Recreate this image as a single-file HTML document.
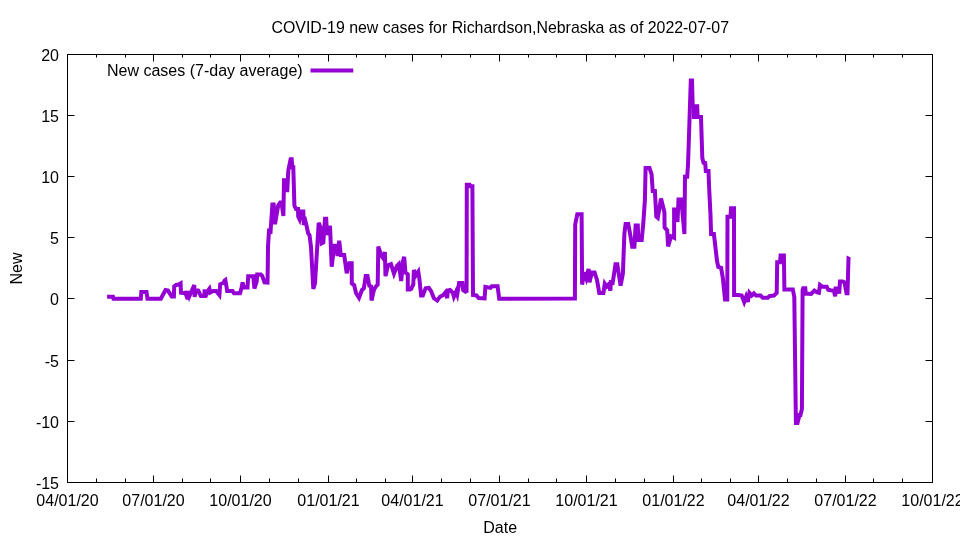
<!DOCTYPE html>
<html><head><meta charset="utf-8"><style>
html,body{margin:0;padding:0;background:#fff;width:960px;height:540px;overflow:hidden}
svg{display:block;will-change:transform}
text{font-family:"Liberation Sans",sans-serif;font-size:16px;fill:#000}
</style></head><body>
<svg width="960" height="540" viewBox="0 0 960 540">
<rect x="0" y="0" width="960" height="540" fill="#fff"/>
<path d="M153.5 482.5V475.5M153.5 54.5V61.5M240.5 482.5V475.5M240.5 54.5V61.5M328.5 482.5V475.5M328.5 54.5V61.5M412.5 482.5V475.5M412.5 54.5V61.5M499.5 482.5V475.5M499.5 54.5V61.5M586.5 482.5V475.5M586.5 54.5V61.5M673.5 482.5V475.5M673.5 54.5V61.5M758.5 482.5V475.5M758.5 54.5V61.5M845.5 482.5V475.5M845.5 54.5V61.5M96.5 482.5V478.5M96.5 54.5V57.5M125.5 482.5V478.5M125.5 54.5V57.5M182.5 482.5V478.5M182.5 54.5V57.5M210.5 482.5V478.5M210.5 54.5V57.5M269.5 482.5V478.5M269.5 54.5V57.5M298.5 482.5V478.5M298.5 54.5V57.5M356.5 482.5V478.5M356.5 54.5V57.5M385.5 482.5V478.5M385.5 54.5V57.5M441.5 482.5V478.5M441.5 54.5V57.5M470.5 482.5V478.5M470.5 54.5V57.5M528.5 482.5V478.5M528.5 54.5V57.5M556.5 482.5V478.5M556.5 54.5V57.5M615.5 482.5V478.5M615.5 54.5V57.5M644.5 482.5V478.5M644.5 54.5V57.5M701.5 482.5V478.5M701.5 54.5V57.5M730.5 482.5V478.5M730.5 54.5V57.5M787.5 482.5V478.5M787.5 54.5V57.5M816.5 482.5V478.5M816.5 54.5V57.5M873.5 482.5V478.5M873.5 54.5V57.5M902.5 482.5V478.5M902.5 54.5V57.5M67.5 421.5H74.5M932.5 421.5H925.5M67.5 360.5H74.5M932.5 360.5H925.5M67.5 298.5H74.5M932.5 298.5H925.5M67.5 237.5H74.5M932.5 237.5H925.5M67.5 176.5H74.5M932.5 176.5H925.5M67.5 115.5H74.5M932.5 115.5H925.5" stroke="#000" stroke-width="1" fill="none"/>
<rect x="67.5" y="54.5" width="865" height="428" fill="none" stroke="#000" stroke-width="1"/>
<text x="59" y="488.8" text-anchor="end">-15</text>
<text x="59" y="427.8" text-anchor="end">-10</text>
<text x="59" y="366.8" text-anchor="end">-5</text>
<text x="59" y="304.8" text-anchor="end">0</text>
<text x="59" y="243.8" text-anchor="end">5</text>
<text x="59" y="182.8" text-anchor="end">10</text>
<text x="59" y="121.8" text-anchor="end">15</text>
<text x="59" y="60.8" text-anchor="end">20</text>
<text x="67.5" y="505.7" text-anchor="middle">04/01/20</text>
<text x="153.5" y="505.7" text-anchor="middle">07/01/20</text>
<text x="240.5" y="505.7" text-anchor="middle">10/01/20</text>
<text x="328.5" y="505.7" text-anchor="middle">01/01/21</text>
<text x="412.5" y="505.7" text-anchor="middle">04/01/21</text>
<text x="499.5" y="505.7" text-anchor="middle">07/01/21</text>
<text x="586.5" y="505.7" text-anchor="middle">10/01/21</text>
<text x="673.5" y="505.7" text-anchor="middle">01/01/22</text>
<text x="758.5" y="505.7" text-anchor="middle">04/01/22</text>
<text x="845.5" y="505.7" text-anchor="middle">07/01/22</text>
<text x="932.5" y="505.7" text-anchor="middle">10/01/22</text>
<text x="500.25" y="33" text-anchor="middle" style="font-size:15.9px">COVID-19 new cases for Richardson,Nebraska as of 2022-07-07</text>
<text x="500.2" y="532.8" text-anchor="middle">Date</text>
<text transform="translate(22,268.5) rotate(-90)" text-anchor="middle">New</text>
<text x="107" y="75.9">New cases (7-day average)</text>
<path d="M310.5 70.4H353.3" stroke="#9400d3" stroke-width="4" fill="none"/>
<path d="M107.1 296.8 L113.0 296.8 L113.5 298.7 L140.8 298.7 L141.3 292.1 L146.5 292.1 L147.5 298.7 L160.8 298.7 L165.5 290.0 L168.0 290.6 L171.7 296.4 L173.9 296.4 L174.2 286.5 L176.1 285.0 L178.7 284.6 L180.6 283.5 L181.0 292.8 L183.5 293.1 L185.4 292.8 L187.6 299.0 L188.0 290.9 L189.4 296.1 L191.3 291.7 L194.3 285.0 L194.6 296.9 L196.1 290.2 L198.3 290.6 L200.9 296.1 L204.3 296.1 L204.6 289.4 L205.4 297.2 L207.2 291.7 L209.4 288.7 L210.2 292.4 L213.1 290.9 L216.1 290.9 L219.4 295.0 L220.2 284.3 L223.5 282.8 L224.6 280.6 L225.4 280.0 L227.2 291.0 L232.5 291.0 L234.0 293.2 L240.0 293.2 L241.5 288.0 L242.6 282.5 L243.9 287.5 L247.5 287.5 L248.2 276.3 L253.3 276.3 L254.4 288.5 L256.7 281.7 L257.2 274.5 L260.8 274.5 L262.2 275.8 L264.5 282.3 L267.5 282.5 L267.8 265.0 L268.0 246.9 L269.1 228.7 L270.4 233.9 L272.4 204.5 L273.7 204.5 L275.0 224.2 L278.2 205.4 L280.2 202.5 L281.5 202.5 L283.4 216.0 L284.0 180.3 L286.5 180.3 L287.2 192.2 L288.3 170.6 L290.6 159.2 L291.7 159.2 L292.3 167.2 L293.3 167.2 L294.4 205.5 L296.0 209.0 L298.0 209.0 L298.2 216.5 L299.6 219.5 L301.5 211.4 L303.3 211.4 L303.8 225.0 L305.5 221.5 L306.5 225.5 L308.2 233.5 L309.5 235.0 L311.0 247.0 L313.3 289.0 L315.0 283.3 L318.7 222.8 L320.8 228.3 L321.7 243.3 L323.3 242.5 L325.0 218.7 L326.2 218.7 L327.0 235.0 L330.0 225.8 L331.7 266.7 L334.2 245.8 L336.7 245.8 L337.5 256.0 L339.2 240.8 L340.8 255.0 L344.2 255.0 L346.7 273.3 L349.2 263.3 L351.7 263.3 L351.8 283.4 L354.2 285.2 L356.0 293.0 L359.0 297.8 L362.0 290.0 L363.9 288.2 L365.7 276.1 L367.5 276.1 L369.3 285.8 L371.1 286.4 L371.5 300.5 L374.1 289.4 L375.9 286.4 L377.7 284.6 L378.3 246.6 L381.3 255.7 L383.0 258.0 L384.9 252.0 L385.5 276.1 L388.0 265.3 L391.0 264.1 L394.0 273.7 L397.0 265.9 L398.8 264.1 L401.2 281.0 L403.0 261.1 L404.2 256.9 L405.4 272.5 L407.8 274.3 L407.8 289.4 L410.0 289.4 L411.1 288.9 L413.3 284.4 L413.9 270.0 L416.1 275.0 L418.3 271.7 L419.4 278.9 L421.1 295.6 L422.8 295.6 L425.6 288.3 L428.9 287.8 L431.1 291.1 L433.9 298.3 L437.2 300.6 L440.0 296.7 L443.3 295.0 L445.6 292.2 L447.2 298.2 L447.8 290.6 L450.0 290.0 L452.8 292.8 L453.9 296.8 L456.1 291.7 L457.2 294.6 L459.1 283.1 L462.4 283.1 L463.1 290.2 L465.4 291.7 L466.6 291.0 L466.8 184.8 L469.6 184.8 L470.2 186.3 L472.4 186.3 L473.0 295.0 L476.5 295.4 L478.7 298.0 L484.6 298.3 L485.4 286.9 L490.5 287.9 L491.8 286.2 L497.6 286.2 L499.2 298.8 L574.9 298.6 L575.2 224.4 L577.3 214.3 L581.6 214.3 L582.1 284.6 L584.4 272.1 L586.3 278.1 L588.6 268.9 L589.5 282.3 L591.9 272.6 L594.6 272.6 L597.0 280.0 L599.3 293.0 L603.4 293.0 L604.8 283.7 L606.7 286.5 L608.5 284.6 L610.4 290.6 L610.8 282.3 L612.7 282.8 L615.5 264.3 L617.3 264.3 L618.7 273.5 L620.6 285.6 L622.9 273.5 L624.4 233.3 L625.6 223.9 L628.3 223.9 L630.0 233.3 L632.2 246.7 L634.4 246.7 L635.6 225.6 L637.8 225.6 L638.3 240.0 L641.7 240.0 L643.3 223.3 L644.9 200.0 L645.6 168.0 L649.5 168.0 L651.6 174.4 L652.7 191.1 L654.9 191.1 L656.3 216.5 L657.8 217.8 L661.0 198.5 L664.4 212.0 L664.6 227.4 L667.2 230.4 L668.1 246.5 L671.1 236.3 L674.1 237.8 L674.1 209.6 L676.3 209.6 L677.5 222.0 L678.5 199.5 L681.5 199.5 L682.2 209.6 L684.4 234.0 L684.6 215.0 L685.0 176.7 L687.2 176.7 L688.0 165.0 L689.5 120.0 L690.8 80.6 L692.0 80.6 L692.7 106.3 L697.2 106.3 L697.7 117.0 L701.0 117.0 L702.3 158.0 L703.5 162.8 L705.2 163.0 L705.8 171.0 L708.5 171.0 L709.0 185.0 L710.5 215.0 L711.1 233.9 L713.9 233.9 L717.0 261.0 L718.3 267.0 L721.1 267.8 L722.8 277.8 L725.0 299.4 L727.3 299.4 L727.5 216.7 L730.5 216.7 L731.0 208.3 L734.0 208.3 L734.1 295.0 L738.3 295.0 L741.7 295.6 L744.2 302.0 L746.1 296.7 L747.8 302.0 L749.4 292.8 L751.7 295.6 L753.9 293.3 L756.1 295.6 L760.6 295.6 L762.8 297.8 L767.8 297.8 L769.4 296.1 L773.9 295.6 L776.7 292.8 L777.2 262.2 L780.0 262.2 L780.6 255.6 L783.9 255.6 L784.4 289.4 L792.8 289.4 L794.3 297.0 L795.9 422.9 L797.5 422.9 L799.5 415.0 L800.5 415.0 L801.9 409.0 L802.6 290.0 L803.2 288.2 L805.3 288.2 L805.8 293.6 L811.1 293.9 L814.4 290.6 L816.7 292.2 L818.9 292.8 L820.0 285.0 L822.2 286.7 L826.7 286.7 L828.2 289.8 L830.6 290.3 L833.8 290.7 L835.2 296.3 L835.6 288.4 L838.0 288.4 L839.2 293.5 L840.0 281.5 L842.6 281.5 L844.5 282.4 L846.5 293.3 L847.5 293.3 L848.5 258.5 L850.0 259.2" stroke="#9400d3" stroke-width="4" fill="none" stroke-linejoin="miter" stroke-miterlimit="4" stroke-linecap="butt"/>
<path d="M691.8 106H698.6L698.3 119H691.8Z" fill="#9400d3"/>
</svg>
</body></html>
